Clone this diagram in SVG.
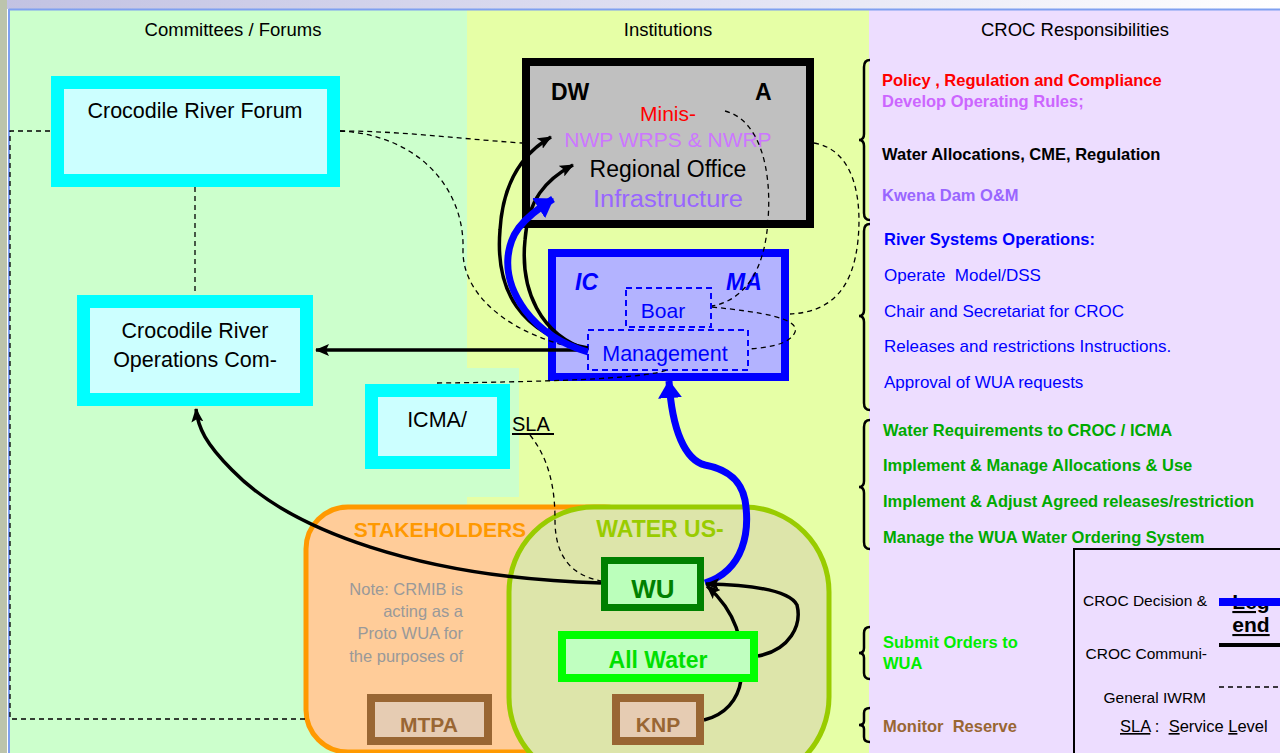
<svg xmlns="http://www.w3.org/2000/svg" width="1280" height="753" viewBox="0 0 1280 753">
<defs>
<linearGradient id="topg" x1="0" x2="1" y1="0" y2="0"><stop offset="0" stop-color="#C2C2E2"/><stop offset="0.6" stop-color="#E4E4F4"/><stop offset="1" stop-color="#FFFFFF"/></linearGradient>
<marker id="ah" markerUnits="userSpaceOnUse" markerWidth="14" markerHeight="12" refX="13" refY="6" orient="auto"><path d="M0,0 L14,6 L0,12 L3,6 z" fill="#000"/></marker>
<marker id="ahb" markerUnits="userSpaceOnUse" markerWidth="18" markerHeight="24" refX="17" refY="12" orient="auto"><path d="M0,0 L18,12 L0,24 z" fill="#0000FF"/></marker>
</defs>
<style>
text{font-family:"Liberation Sans",Arial,sans-serif}
.hdr{font-size:18.5px;fill:#000;text-anchor:middle}
.nd{font-size:21.5px;fill:#000;text-anchor:middle}
.cy{fill:#CCFFFF;stroke:#00FFFF;stroke-width:13}
.dash{fill:none;stroke:#000;stroke-width:1.3;stroke-dasharray:5 4}
.conn{fill:none;stroke:#000;stroke-width:3.5}
.blue{fill:none;stroke:#0000FF;stroke-width:7}
.brace{fill:none;stroke:#000;stroke-width:2.5}
.rb{font-size:16.5px;font-weight:bold;white-space:pre}
.rn{font-size:17px;fill:#0000FF;white-space:pre}
.bx{fill:none;stroke:#0000FF;stroke-width:2;stroke-dasharray:6 4}
.lg{font-size:15.5px;fill:#000;text-anchor:end}
.note{font-size:16.5px;fill:#999999;text-anchor:end}
</style>

<g id="background">
<rect x="0" y="0" width="1280" height="753" fill="#FFFFFF"/>
<rect x="10" y="10" width="457" height="743" fill="#CCFFCC"/>
<rect x="467" y="10" width="402" height="743" fill="#E6FFA6"/>
<rect x="467" y="368" width="52" height="129" fill="#CCFFCC"/>
<rect x="869" y="10" width="411" height="743" fill="#EDDDFF"/>
<rect x="0" y="0" width="1280" height="9" fill="url(#topg)"/>
<line x1="9" y1="9.5" x2="1280" y2="9.5" stroke="#7FA0F0" stroke-width="2"/>
<rect x="0" y="0" width="7" height="753" fill="#BCC4AC"/>
<line x1="9" y1="9" x2="9" y2="753" stroke="#7FA0F0" stroke-width="2"/>
<text class="hdr" x="233" y="36">Committees / Forums</text>
<text class="hdr" x="668" y="36">Institutions</text>
<text class="hdr" x="1075" y="36">CROC Responsibilities</text>
</g>

<g id="stakeholders">
<rect x="306" y="507" width="340" height="245" rx="42" fill="#FFCC99" stroke="#FF9900" stroke-width="5"/>
<text x="440" y="537" font-size="21" font-weight="bold" fill="#FF9900" text-anchor="middle">STAKEHOLDERS</text>
<text class="note" x="463" y="595">Note: CRMIB is</text>
<text class="note" x="463" y="617">acting as a</text>
<text class="note" x="463" y="639">Proto WUA for</text>
<text class="note" x="463" y="662">the purposes of</text>
</g>
<g id="water-users">
<rect x="509" y="507" width="320" height="275" rx="85" fill="#DDE5AA" stroke="#99CC00" stroke-width="5"/>
<text x="660" y="537" font-size="23" font-weight="bold" fill="#99CC00" text-anchor="middle">WATER US-</text>
</g>

<g id="forum">
<rect class="cy" x="57.5" y="82.5" width="276" height="98"/>
<text class="nd" x="195" y="118">Crocodile River Forum</text>
</g>
<g id="ops">
<rect class="cy" x="83.5" y="301.5" width="223" height="98"/>
<text class="nd" x="195" y="338">Crocodile River</text>
<text class="nd" x="195" y="367">Operations Com-</text>
</g>
<g id="icma-sla">
<rect class="cy" x="371.5" y="390.5" width="132" height="72"/>
<text class="nd" x="437" y="427">ICMA/</text>
<text x="512" y="431" font-size="20" fill="#000">SLA</text>
<line x1="512" y1="434" x2="554" y2="434" stroke="#000" stroke-width="2"/>
</g>
<g id="dwa">
<rect x="526" y="62" width="284" height="162" fill="#C0C0C0" stroke="#000" stroke-width="8"/>
<text x="551" y="100" font-size="23" font-weight="bold" fill="#000">DW</text>
<text x="755" y="100" font-size="23" font-weight="bold" fill="#000">A</text>
<text x="668" y="121" font-size="21" fill="#FF0000" text-anchor="middle">Minis-</text>
<text x="668" y="147" font-size="21" fill="#CC77FF" text-anchor="middle">NWP WRPS &amp; NWRP</text>
<text x="668" y="177" font-size="23" fill="#000" text-anchor="middle">Regional Office</text>
<text x="668" y="207" font-size="23" fill="#9966FF" text-anchor="middle" textLength="150" lengthAdjust="spacingAndGlyphs">Infrastructure</text>
</g>
<g id="icma">
<rect x="552" y="253" width="233" height="124" fill="#B3B3FF" stroke="#0000FF" stroke-width="8"/>
<text x="575" y="290" font-size="23" font-weight="bold" font-style="italic" fill="#0000FF">IC</text>
<text x="726" y="290" font-size="23" font-weight="bold" font-style="italic" fill="#0000FF">MA</text>
<rect class="bx" x="626" y="288" width="85" height="39"/>
<text x="663" y="318" font-size="21" fill="#0000FF" text-anchor="middle">Boar</text>
<rect class="bx" x="588" y="330" width="160" height="40"/>
<text x="665" y="361" font-size="21.5" fill="#0000FF" text-anchor="middle">Management</text>
</g>

<g id="connectors">
<path class="dash" d="M50,131 L10,131 L10,719 L306,719"/>
<path class="dash" d="M340,131 C400,131 450,138 522,143"/>
<path class="dash" d="M340,131 C420,135 465,190 463,250 C462,300 520,340 588,350"/>
<path class="dash" d="M195,187 L195,295"/>
<path class="dash" d="M725,111 C760,120 772,170 768,220 C765,270 745,300 712,306"/>
<path class="dash" d="M712,307 C760,312 800,318 795,332 C790,345 765,348 748,349"/>
<path class="dash" d="M814,143 C855,150 862,200 858,240 C853,290 830,312 790,314"/>
<path class="dash" d="M437,383 Q640,381 667,370"/>
<path class="dash" d="M530,435 C550,460 555,490 555,520 C555,555 570,575 601,581"/>
<path class="conn" d="M588,350 L316,350" marker-end="url(#ah)"/>
<path class="conn" d="M601,583 C420,578 290,530 232,470 C206,444 198,428 196,409" marker-end="url(#ah)"/>
<path class="conn" d="M588,348 C520,335 495,290 500,230 C503,180 525,152 551,137" marker-end="url(#ah)"/>
<path class="conn" d="M588,350 C540,335 520,290 525,240 C528,200 545,180 573,165" marker-end="url(#ah)"/>
<path class="blue" d="M588,352 C530,335 505,290 508,257 C510,235 520,220 553,199" marker-end="url(#ahb)"/>
<path class="blue" d="M705,583 C745,570 750,530 745,500 C740,475 720,468 705,465 C685,460 672,430 669,381" marker-end="url(#ahb)"/>
<path class="conn" d="M758,656 C790,650 802,625 797,605 C790,592 760,585 706,584" marker-end="url(#ah)"/>
<path class="conn" d="M704,720 C725,715 738,700 741,680 C745,650 740,615 707,586" marker-end="url(#ah)"/>
</g>

<g id="wu">
<rect x="604.5" y="560.5" width="96" height="47" fill="#BBFFBB" stroke="#008000" stroke-width="7"/>
<text x="653" y="598" font-size="26" font-weight="bold" fill="#008000" text-anchor="middle">WU</text>
</g>
<g id="all-water">
<rect x="562" y="635" width="192" height="43" fill="#C0FFC0" stroke="#00FF00" stroke-width="8"/>
<text x="658" y="668" font-size="23" font-weight="bold" fill="#00E000" text-anchor="middle">All Water</text>
</g>
<g id="mtpa">
<rect x="371" y="698" width="117" height="43" fill="#E6CCB3" stroke="#996633" stroke-width="8"/>
<text x="429" y="732" font-size="21" font-weight="bold" fill="#996633" text-anchor="middle">MTPA</text>
</g>
<g id="knp">
<rect x="616" y="698" width="84" height="43" fill="#E6CCB3" stroke="#996633" stroke-width="8"/>
<text x="658" y="732" font-size="21" font-weight="bold" fill="#996633" text-anchor="middle">KNP</text>
</g>

<g id="responsibilities">
<path class="brace" d="M870,60 Q864,60 864,67 L864,134 Q864,140 859,140 Q864,140 864,146 L864,213 Q864,220 870,220"/>
<path class="brace" d="M870,224 Q864,224 864,231 L864,310 Q864,316 859,316 Q864,316 864,322 L864,403 Q864,410 870,410"/>
<path class="brace" d="M870,420 Q864,420 864,427 L864,481 Q864,487 859,487 Q864,487 864,493 L864,542 Q864,549 870,549"/>
<path class="brace" d="M870,627 Q864,627 864,633 L864,648 Q864,653 859,653 Q864,653 864,658 L864,673 Q864,679 870,679"/>
<path class="brace" d="M870,708 Q864,708 864,713 L864,721 Q864,725 859,725 Q864,725 864,729 L864,737 Q864,742 870,742"/>
<text class="rb" x="882" y="86" fill="#FF0000">Policy , Regulation and Compliance</text>
<text class="rb" x="882" y="107" fill="#CC66FF">Develop Operating Rules;</text>
<text class="rb" x="882" y="160" fill="#000">Water Allocations, CME, Regulation</text>
<text class="rb" x="882" y="201" fill="#9966FF">Kwena Dam O&amp;M</text>
<text class="rb" x="884" y="245" fill="#0000FF">River Systems Operations:</text>
<text class="rn" x="884" y="281" xml:space="preserve">Operate  Model/DSS</text>
<text class="rn" x="884" y="317">Chair and Secretariat for CROC</text>
<text class="rn" x="884" y="352">Releases and restrictions Instructions.</text>
<text class="rn" x="884" y="388">Approval of WUA requests</text>
<text class="rb" x="883" y="436" fill="#00AA00">Water Requirements to CROC / ICMA</text>
<text class="rb" x="883" y="471" fill="#00AA00">Implement &amp; Manage Allocations &amp; Use</text>
<text class="rb" x="883" y="507" fill="#00AA00">Implement &amp; Adjust Agreed releases/restriction</text>
<text class="rb" x="883" y="543" fill="#00AA00">Manage the WUA Water Ordering System</text>
<text class="rb" x="883" y="648" fill="#00EE00" font-size="17">Submit Orders to</text>
<text class="rb" x="883" y="669" fill="#00EE00" font-size="17">WUA</text>
<text class="rb" x="883" y="732" fill="#996633" xml:space="preserve">Monitor  Reserve</text>
</g>

<g id="legend">
<rect x="1074" y="549" width="220" height="220" fill="#EDDDFF" stroke="#000" stroke-width="2"/>
<text class="lg" x="1207" y="606">CROC Decision &amp;</text>
<text class="lg" x="1207" y="659">CROC Communi-</text>
<text class="lg" x="1206" y="703">General IWRM</text>
<text x="1251" y="609" font-size="21" font-weight="bold" fill="#000" text-anchor="middle" text-decoration="underline">Leg</text>
<line x1="1219" y1="602" x2="1280" y2="602" stroke="#0000FF" stroke-width="8"/>
<text x="1251" y="632" font-size="21" font-weight="bold" fill="#000" text-anchor="middle" text-decoration="underline">end</text>
<line x1="1219" y1="645" x2="1280" y2="645" stroke="#000" stroke-width="4"/>
<line class="dash" x1="1219" y1="687" x2="1280" y2="687"/>
<text x="1120" y="732" font-size="16.5" fill="#000" xml:space="preserve"><tspan text-decoration="underline">SLA</tspan> :  <tspan text-decoration="underline">S</tspan>ervice <tspan text-decoration="underline">L</tspan>evel</text>
</g>
</svg>
